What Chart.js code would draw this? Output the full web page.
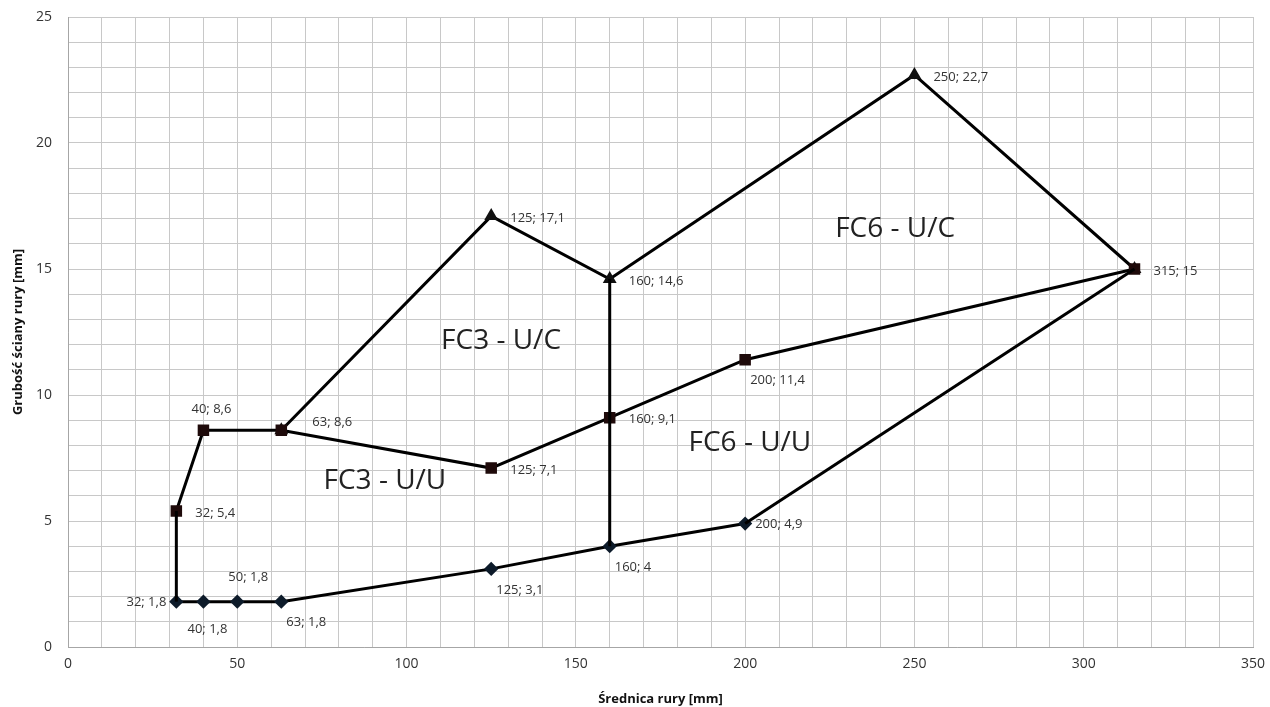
<!DOCTYPE html>
<html>
<head>
<meta charset="utf-8">
<script src="https://cdn.jsdelivr.net/npm/chart.js@4/dist/chart.umd.min.js"></script>
<style>
  body { margin: 0; background: #fff; }
  #wrap { width: 1270px; height: 707px; }
</style>
</head>
<body>
<div id="wrap"><canvas id="chart" width="1270" height="707"></canvas></div>
<script>
// series: x = pipe diameter [mm], y = wall thickness [mm]
const diamondX = [32, 40, 50, 63, 125, 160, 200];
const diamondY = [1.8, 1.8, 1.8, 1.8, 3.1, 4, 4.9];

const squareX = [32, 40, 63, 125, 160, 200, 315];
const squareY = [5.4, 8.6, 8.6, 7.1, 9.1, 11.4, 15];

const triangleX = [63, 125, 160, 250, 315];
const triangleY = [8.6, 17.1, 14.6, 22.7, 15];

// plain connecting lines without markers
const leftEdgeX = [32, 32];
const leftEdgeY = [1.8, 5.4];
const lowerEdgeX = [200, 315];
const lowerEdgeY = [4.9, 15];
const midEdgeX = [160, 160];
const midEdgeY = [4, 14.6];

// point labels "x; y" and where each one sits
const labelX = [32, 40, 50, 63, 125, 160, 200, 32, 40, 63, 125, 160, 200, 315, 125, 160, 250];
const labelY = [1.8, 1.8, 1.8, 1.8, 3.1, 4, 4.9, 5.4, 8.6, 8.6, 7.1, 9.1, 11.4, 15, 17.1, 14.6, 22.7];
const labelSide = ["l", "b", "a", "br", "br", "br", "rn", "r", "a2", "ru", "r", "r", "br", "r", "r", "r", "r"];

// region names
const regionNames = ["FC6 - U/C", "FC3 - U/C", "FC6 - U/U", "FC3 - U/U"];
const regionX = [244.3, 127.9, 201.4, 93.6];
const regionY = [16.6, 12.15, 8.1, 6.6];

const xTitle = "Średnica rury [mm]";
const yTitle = "Grubość ściany rury [mm]";

const toPoints = (xs, ys) => xs.map((x, i) => ({ x: x, y: ys[i] }));

const sideOffsets = {
  l:  { dx: -10, dy: 1,   align: "right" },
  r:  { dx: 19,  dy: 2,   align: "left" },
  rn: { dx: 10,  dy: 1,   align: "left" },
  ru: { dx: 31,  dy: -8,  align: "left" },
  a:  { dx: 11,  dy: -24, align: "center" },
  a2: { dx: 8,   dy: -21, align: "center" },
  b:  { dx: 4,   dy: 28,  align: "center" },
  br: { dx: 5,   dy: 21,  align: "left" },
};

const fmt = (v) => String(v).replace(".", ",");

const labelPlugin = {
  id: "pointLabels",
  afterDatasetsDraw(chart) {
    const { ctx, scales } = chart;
    ctx.save();
    ctx.fillStyle = "#333";
    ctx.font = "13px 'Open Sans'";
    ctx.textBaseline = "middle";
    labelX.forEach((x, i) => {
      const off = sideOffsets[labelSide[i]];
      ctx.textAlign = off.align;
      const px = scales.x.getPixelForValue(x) + off.dx;
      const py = scales.y.getPixelForValue(labelY[i]) + off.dy;
      ctx.fillText(fmt(x) + "; " + fmt(labelY[i]), px, py);
    });
    ctx.font = "28px 'Open Sans'";
    ctx.fillStyle = "#222";
    ctx.textAlign = "center";
    regionNames.forEach((name, i) => {
      ctx.fillText(name, scales.x.getPixelForValue(regionX[i]), scales.y.getPixelForValue(regionY[i]));
    });
    ctx.restore();
  },
};

const lineSet = (xs, ys) => ({
  data: toPoints(xs, ys),
  showLine: true,
  borderColor: "#000",
  borderWidth: 3,
  pointRadius: 0,
});

new Chart(document.getElementById("chart"), {
  type: "scatter",
  data: {
    datasets: [
      lineSet(leftEdgeX, leftEdgeY),
      lineSet(lowerEdgeX, lowerEdgeY),
      lineSet(midEdgeX, midEdgeY),
      {
        data: toPoints(diamondX, diamondY),
        showLine: true,
        borderColor: "#000",
        borderWidth: 3,
        pointStyle: "rectRot",
        pointRadius: 5,
        pointBackgroundColor: "#0d1b2a",
        pointBorderColor: "#0d1b2a",
      },
      {
        data: toPoints(squareX, squareY),
        showLine: true,
        borderColor: "#000",
        borderWidth: 3,
        pointStyle: "rect",
        pointRadius: 6,
        pointBackgroundColor: "#1e0a0a",
        pointBorderColor: "#1e0a0a",
      },
      {
        data: toPoints(triangleX, triangleY),
        showLine: true,
        borderColor: "#000",
        borderWidth: 3,
        pointStyle: "triangle",
        pointRadius: 5,
        pointBackgroundColor: "#111",
        pointBorderColor: "#111",
      },
    ],
  },
  options: {
    responsive: false,
    animation: false,
    layout: { padding: { top: 17, right: 17, left: 0, bottom: 0 } },
    plugins: {
      legend: { display: false },
      tooltip: { enabled: false },
    },
    scales: {
      x: {
        type: "linear",
        min: 0,
        max: 350,
        afterFit: (scale) => {
          scale.height = 60;
          scale.paddingLeft = 0;
          scale.paddingRight = 0;
        },
        border: { color: "#a6a6a6", width: 1 },
        grid: { color: "#c8c8c8", drawTicks: false },
        ticks: {
          stepSize: 10,
          autoSkip: false,
          maxRotation: 0,
          padding: 9,
          color: "#333",
          font: { size: 14, family: "'Open Sans'" },
          callback: (v) => (v % 50 === 0 ? v : ""),
        },
        title: {
          display: true,
          text: xTitle,
          color: "#111",
          font: { size: 13, weight: "bold", family: "'Open Sans'" },
          padding: { top: 4, bottom: 0 },
        },
      },
      y: {
        type: "linear",
        min: 0,
        max: 25,
        afterFit: (scale) => {
          scale.width = 68;
          scale.paddingTop = 0;
          scale.paddingBottom = 0;
        },
        border: { color: "#a6a6a6", width: 1 },
        grid: { color: "#c8c8c8", drawTicks: false },
        ticks: {
          stepSize: 1,
          autoSkip: false,
          padding: 16,
          color: "#333",
          font: { size: 14, family: "'Open Sans'" },
          callback: (v) => (v % 5 === 0 ? v : ""),
        },
        title: {
          display: true,
          text: yTitle,
          color: "#111",
          font: { size: 13, weight: "bold", family: "'Open Sans'" },
          padding: { top: 10, bottom: 0 },
        },
      },
    },
  },
  plugins: [labelPlugin],
});
</script>
</body>
</html>
